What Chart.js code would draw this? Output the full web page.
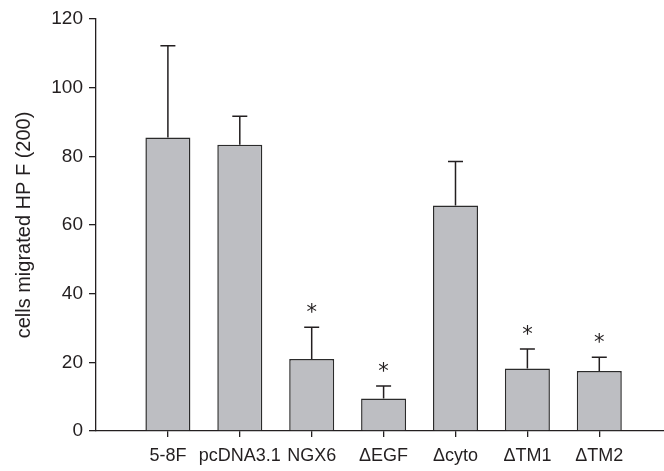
<!DOCTYPE html>
<html>
<head>
<meta charset="utf-8">
<script src="https://cdn.jsdelivr.net/npm/chart.js@4.4.0/dist/chart.umd.min.js"></script>
<style>
  html, body { margin: 0; padding: 0; background: #ffffff; }
  #wrap { width: 664px; height: 471px; position: relative; }
</style>
</head>
<body>
<div id="wrap"><canvas id="c" width="664" height="471"></canvas></div>
<script>
const categories = ['5-8F', 'pcDNA3.1', 'NGX6', '\u0394EGF', '\u0394cyto', '\u0394TM1', '\u0394TM2'];
const means = [85.5, 83.4, 21.0, 9.5, 65.7, 18.2, 17.5];
const errorTops = [112.2, 91.7, 30.2, 13.1, 78.5, 23.9, 21.5];
const significant = [false, false, true, true, false, true, true];
const yTicks = [0, 20, 40, 60, 80, 100, 120];

const INK = '#231f20';
const FONT = 'Liberation Sans, Arial, Helvetica, sans-serif';

const errorPlugin = {
  id: 'errorBars',
  afterDatasetsDraw(chart) {
    const ctx = chart.ctx;
    const xs = chart.scales.x, ys = chart.scales.y;
    ctx.save();
    ctx.strokeStyle = INK;
    ctx.lineWidth = 1.5;
    ctx.fillStyle = INK;
    ctx.font = '21px DejaVu Sans, sans-serif';
    ctx.textAlign = 'center';
    ctx.textBaseline = 'alphabetic';
    means.forEach((m, i) => {
      const x = xs.getPixelForValue(i);
      const y0 = ys.getPixelForValue(m);
      const y1 = ys.getPixelForValue(errorTops[i]);
      ctx.beginPath();
      ctx.moveTo(x, y0);
      ctx.lineTo(x, y1);
      ctx.moveTo(x - 7.5, y1);
      ctx.lineTo(x + 7.5, y1);
      ctx.stroke();
      if (significant[i]) {
        const mt = ctx.measureText('*');
        const h = mt.actualBoundingBoxAscent - mt.actualBoundingBoxDescent;
        const cy = y1 - 13;
        ctx.fillText('*', x, cy + mt.actualBoundingBoxAscent - h / 2);
      }
    });
    ctx.restore();
  }
};

new Chart(document.getElementById('c'), {
  type: 'bar',
  data: {
    datasets: [{
      data: means.map((v, i) => ({ x: i, y: v })),
      backgroundColor: '#bdbec2',
      borderColor: '#2b2b2b',
      borderWidth: 1.5,
      borderSkipped: 'bottom',
      categoryPercentage: 1,
      barPercentage: 0.626
    }]
  },
  options: {
    responsive: false,
    animation: false,
    events: [],
    layout: { padding: { top: 19, right: 0, left: 0, bottom: 0 } },
    plugins: { legend: { display: false }, tooltip: { enabled: false } },
    scales: {
      x: {
        type: 'linear',
        min: -1,
        max: 6.9,
        offset: false,
        afterFit(s) { s.height = 40; },
        afterBuildTicks(s) { s.ticks = categories.map((_, i) => ({ value: i })); },
        grid: { offset: false, drawOnChartArea: false, drawTicks: true, tickLength: 6, color: INK, lineWidth: 1.3 },
        border: { display: true, color: INK, width: 1.3 },
        ticks: {
          autoSkip: false,
          maxRotation: 0,
          padding: 8,
          color: INK,
          font: { family: FONT, size: 18 },
          callback: (v) => categories[v]
        }
      },
      y: {
        min: 0,
        max: 120,
        afterFit(s) { s.width = 96; },
        afterBuildTicks(s) { s.ticks = yTicks.map(v => ({ value: v })); },
        grid: { drawOnChartArea: false, drawTicks: true, tickLength: 7, color: INK, lineWidth: 1.3 },
        border: { display: true, color: INK, width: 1.3 },
        ticks: {
          padding: 6,
          color: INK,
          font: { family: FONT, size: 19 }
        },
        title: {
          display: true,
          text: 'cells migrated HP F (200)',
          color: INK,
          font: { family: FONT, size: 20 },
          padding: { top: 12, bottom: 0 }
        }
      }
    }
  },
  plugins: [errorPlugin]
});
</script>
</body>
</html>
